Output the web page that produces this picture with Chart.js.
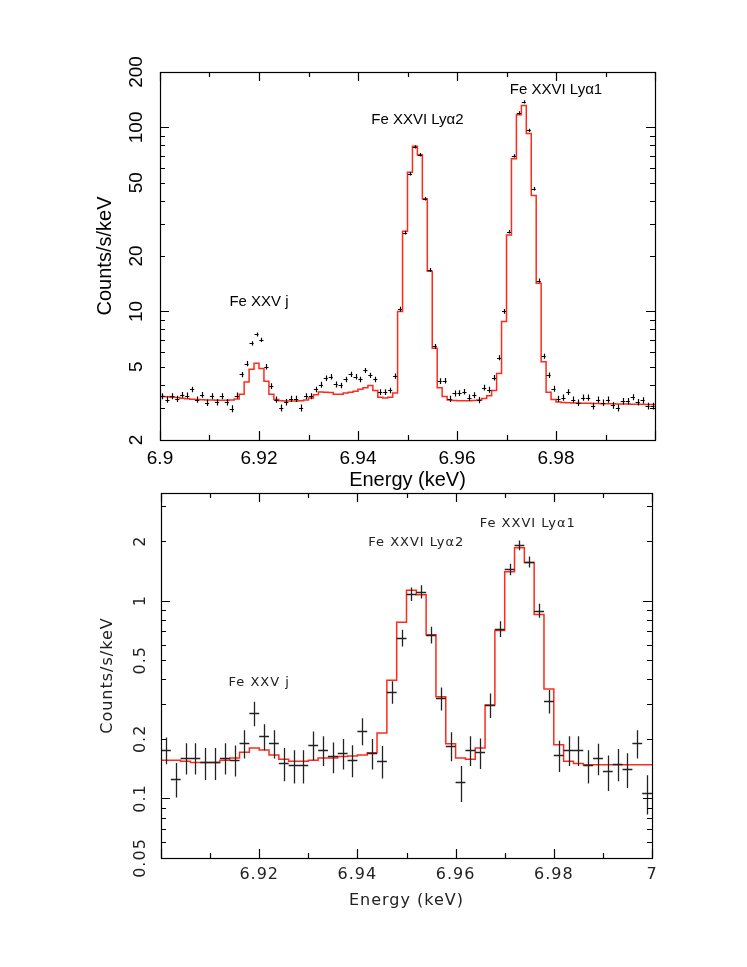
<!DOCTYPE html>
<html>
<head>
<meta charset="utf-8">
<script src="https://cdn.jsdelivr.net/npm/chart.js@4.4.0/dist/chart.umd.min.js"></script>
<style>
  body { margin: 0; background: #fff; }
  #wrap { position: relative; width: 747px; height: 967px; }
  canvas { position: absolute; left: 0; }
</style>
</head>
<body>
<div id="wrap">
  <canvas id="topChart" width="747" height="500" style="top:0"></canvas>
  <canvas id="botChart" width="747" height="450" style="top:470px"></canvas>
</div>
<script>
// energy grid (keV)
var eStart = 6.9;
var topBin = 0.001;
var botBin = 0.002;

// upper panel: 100 bins of 1 eV
var topCounts = [
  3.46, 3.32, 3.46, 3.35, 3.52, 3.49, 3.77, 3.32, 3.52, 3.19,
  3.46, 3.21, 3.46, 3.21, 2.96, 3.49, 4.54, 5.20, 6.70, 7.50,
  7.00, 5.00, 3.93, 3.32, 2.99, 3.21, 3.35, 3.35, 2.99, 3.46,
  3.46, 3.77, 4.00, 4.33, 4.42, 4.01, 3.96, 4.27, 4.55, 4.42,
  4.27, 4.78, 4.49, 4.27, 3.64, 3.64, 3.72, 4.45, 10.3, 26.8,
  56.0, 78.3, 71.0, 41.0, 16.8, 6.45, 4.18, 4.20, 3.35, 3.58,
  3.60, 3.66, 3.40, 3.50, 3.30, 3.85, 3.75, 4.36, 5.60, 10.0,
  27.1, 70.0, 120, 137.7, 96.4, 46.4, 14.7, 5.70, 4.50, 3.80,
  3.35, 3.40, 3.64, 3.32, 3.19, 3.40, 3.40, 3.06, 3.32, 3.19,
  3.32, 3.09, 2.99, 3.25, 3.25, 3.42, 3.21, 3.29, 3.06, 3.06
];
var topErr = [
  0.13, 0.13, 0.13, 0.13, 0.13, 0.13, 0.13, 0.13, 0.13, 0.13,
  0.13, 0.13, 0.13, 0.13, 0.13, 0.13, 0.15, 0.17, 0.18, 0.19,
  0.18, 0.17, 0.14, 0.13, 0.13, 0.13, 0.13, 0.13, 0.13, 0.13,
  0.13, 0.13, 0.15, 0.15, 0.15, 0.15, 0.14, 0.15, 0.15, 0.15,
  0.15, 0.15, 0.15, 0.15, 0.13, 0.13, 0.13, 0.15, 0.30, 0.60,
  1.2, 1.6, 1.5, 0.9, 0.4, 0.2, 0.15, 0.15, 0.13, 0.13,
  0.13, 0.13, 0.13, 0.13, 0.13, 0.14, 0.14, 0.15, 0.18, 0.30,
  0.6, 1.5, 2.4, 2.7, 2.0, 1.0, 0.4, 0.18, 0.15, 0.14,
  0.13, 0.13, 0.13, 0.13, 0.13, 0.13, 0.13, 0.13, 0.13, 0.13,
  0.13, 0.13, 0.13, 0.13, 0.13, 0.13, 0.13, 0.13, 0.13, 0.13
];
var topModel = [
  3.45, 3.44, 3.42, 3.40, 3.37, 3.35, 3.33, 3.32, 3.31, 3.30,
  3.30, 3.29, 3.29, 3.29, 3.30, 3.34, 3.55, 4.13, 4.85, 5.22,
  4.90, 4.17, 3.55, 3.32, 3.27, 3.26, 3.26, 3.26, 3.27, 3.30,
  3.38, 3.52, 3.65, 3.63, 3.62, 3.55, 3.55, 3.60, 3.64, 3.68,
  3.78, 3.85, 3.95, 3.72, 3.42, 3.38, 3.42, 3.60, 10.0, 27.3,
  57.0, 79.0, 71.0, 41.0, 16.5, 6.30, 3.85, 3.45, 3.30, 3.28,
  3.27, 3.27, 3.27, 3.28, 3.30, 3.36, 3.48, 3.72, 4.60, 8.80,
  26.0, 67.5, 117, 131.5, 92.6, 42.7, 14.2, 5.33, 3.64, 3.32,
  3.22, 3.20, 3.19, 3.18, 3.18, 3.17, 3.17, 3.16, 3.16, 3.15,
  3.15, 3.15, 3.14, 3.14, 3.14, 3.13, 3.13, 3.13, 3.12, 3.12
];
var topXLabels = [6.9, 6.92, 6.94, 6.96, 6.98];
var topYLabels = [2, 5, 10, 20, 50, 100, 200];

// lower panel: 50 bins of 2 eV
var botCounts = [
  0.176, 0.126, 0.161, 0.161, 0.152, 0.152, 0.161, 0.157, 0.190, 0.270,
  0.206, 0.190, 0.151, 0.147, 0.147, 0.187, 0.176, 0.163, 0.170, 0.157,
  0.220, 0.170, 0.155, 0.346, 0.649, 1.08, 1.11, 0.673, 0.321, 0.185,
  0.121, 0.176, 0.171, 0.297, 0.720, 1.44, 1.905, 1.57, 0.891, 0.311,
  0.166, 0.176, 0.176, 0.147, 0.160, 0.137, 0.150, 0.141, 0.190, 0.107
];
var botErr = [
  0.027, 0.025, 0.029, 0.029, 0.028, 0.028, 0.029, 0.028, 0.031, 0.038,
  0.031, 0.031, 0.029, 0.028, 0.028, 0.031, 0.030, 0.029, 0.030, 0.029,
  0.034, 0.030, 0.029, 0.045, 0.063, 0.085, 0.085, 0.065, 0.043, 0.031,
  0.025, 0.030, 0.030, 0.042, 0.066, 0.095, 0.110, 0.100, 0.072, 0.042,
  0.030, 0.030, 0.030, 0.028, 0.029, 0.028, 0.028, 0.028, 0.031, 0.024
];
var botModel = [
  0.156, 0.156, 0.154, 0.152, 0.152, 0.152, 0.156, 0.160, 0.171, 0.180,
  0.176, 0.166, 0.158, 0.154, 0.154, 0.156, 0.160, 0.160, 0.163, 0.164,
  0.166, 0.170, 0.214, 0.396, 0.778, 1.13, 1.07, 0.672, 0.327, 0.189,
  0.160, 0.158, 0.180, 0.297, 0.707, 1.40, 1.85, 1.56, 0.850, 0.357,
  0.187, 0.154, 0.150, 0.148, 0.148, 0.148, 0.148, 0.148, 0.148, 0.148
];
var botXLabels = [6.92, 6.94, 6.96, 6.98, 7];
var botYLabels = [0.05, 0.1, 0.2, 0.5, 1, 2];

var lineNames = ['Fe XXV j', 'Fe XXVI Ly\u03b12', 'Fe XXVI Ly\u03b11'];

function centers(vals, w) {
  return vals.map(function (v, i) { return {x: eStart + w * (i + 0.5), y: v}; });
}
function steps(vals, w) {
  var pts = vals.map(function (v, i) { return {x: eStart + w * i, y: v}; });
  pts.push({x: eStart + w * vals.length, y: vals[vals.length - 1]});
  return pts;
}
function near(list, v) {
  return list.some(function (l) { return Math.abs(l - v) < 1e-6 * Math.max(1, Math.abs(l)); });
}
function fmt(v) { return String(+Number(v).toPrecision(3)); }

// wider letter spacing for the lower panel's plotter-style text
var spacing = {
  id: 'spacing',
  beforeDraw: function (chart, args, o) {
    if (o.px) chart.ctx.letterSpacing = o.px + 'px';
  }
};

// inward ticks on all four sides plus the box
var frame = {
  id: 'frame',
  afterDraw: function (chart, args, o) {
    var ctx = chart.ctx, a = chart.chartArea, x = chart.scales.x, y = chart.scales.y;
    ctx.save();
    ctx.strokeStyle = o.color;
    ctx.lineWidth = o.width;
    ctx.strokeRect(a.left + 0.5, a.top + 0.5, a.right - a.left, a.bottom - a.top);
    ctx.beginPath();
    for (var i = 0; i <= 10; i++) {
      var px = Math.round(x.getPixelForValue(eStart + i * 0.01)) + 0.5;
      var len = i % 2 === 0 ? o.major : o.minor;
      ctx.moveTo(px, a.bottom); ctx.lineTo(px, a.bottom - len);
      ctx.moveTo(px, a.top); ctx.lineTo(px, a.top + len);
    }
    var e0 = Math.floor(Math.log10(y.min)), e1 = Math.ceil(Math.log10(y.max));
    for (var e = e0; e <= e1; e++) {
      for (var m = 1; m <= 9; m++) {
        var v = m * Math.pow(10, e);
        if (v < y.min * 0.999 || v > y.max * 1.001) continue;
        var py = Math.round(y.getPixelForValue(v)) + 0.5;
        var l = m === 1 ? o.major : o.minor;
        ctx.moveTo(a.left, py); ctx.lineTo(a.left + l, py);
        ctx.moveTo(a.right, py); ctx.lineTo(a.right - l, py);
      }
    }
    ctx.stroke();
    ctx.restore();
  }
};

var errorBars = {
  id: 'errorBars',
  afterDatasetsDraw: function (chart, args, o) {
    var ctx = chart.ctx, a = chart.chartArea, x = chart.scales.x, y = chart.scales.y;
    var ds = chart.data.datasets[0];
    ctx.save();
    ctx.beginPath();
    ctx.rect(a.left, a.top, a.right - a.left, a.bottom - a.top);
    ctx.clip();
    ctx.strokeStyle = o.color;
    ctx.lineWidth = o.width;
    ctx.beginPath();
    ds.data.forEach(function (p, i) {
      var e = o.err[i];
      var px = Math.round(x.getPixelForValue(p.x)) + 0.5;
      var py = Math.round(y.getPixelForValue(p.y)) + 0.5;
      ctx.moveTo(x.getPixelForValue(p.x - o.half), py);
      ctx.lineTo(x.getPixelForValue(p.x + o.half), py);
      ctx.moveTo(px, y.getPixelForValue(p.y + e));
      ctx.lineTo(px, y.getPixelForValue(p.y - e));
    });
    ctx.stroke();
    ctx.restore();
  }
};

var notes = {
  id: 'notes',
  afterDraw: function (chart, args, o) {
    var ctx = chart.ctx, x = chart.scales.x, y = chart.scales.y;
    ctx.save();
    ctx.fillStyle = o.color;
    ctx.font = o.font;
    ctx.textAlign = 'center';
    ctx.textBaseline = 'middle';
    o.items.forEach(function (it, i) {
      ctx.fillText(lineNames[i], x.getPixelForValue(it[0]), y.getPixelForValue(it[1]));
    });
    ctx.restore();
  }
};

function makeChart(id, cfg) {
  return new Chart(document.getElementById(id), {
    type: 'line',
    data: {
      datasets: [{
        label: 'data',
        data: cfg.counts,
        showLine: false,
        pointRadius: 0
      }, {
        label: 'model',
        data: cfg.model,
        stepped: true,
        borderColor: '#ff2a1a',
        borderWidth: 1.5,
        pointRadius: 0,
        fill: false
      }]
    },
    options: {
      responsive: false,
      animation: false,
      layout: {padding: cfg.pad},
      plugins: {
        legend: {display: false},
        tooltip: {enabled: false},
        spacing: {px: cfg.letterSpacing},
        frame: {color: '#000', width: cfg.axisWidth, major: 9, minor: 5},
        errorBars: {err: cfg.err, half: cfg.half, color: cfg.crossColor, width: cfg.crossWidth},
        notes: {font: cfg.noteFont, color: cfg.textColor, items: cfg.notes}
      },
      scales: {
        x: {
          type: 'linear',
          min: 6.9,
          max: 7.0,
          afterFit: function (s) { s.height = cfg.xHeight; },
          afterBuildTicks: function (s) { s.ticks = cfg.xLabels.map(function (v) { return {value: v}; }); },
          grid: {display: false},
          border: {display: false},
          ticks: {
            autoSkip: false,
            maxRotation: 0,
            padding: cfg.xTickPad,
            color: cfg.textColor,
            font: cfg.tickFont,
            callback: function (v) { return near(cfg.xLabels, v) ? fmt(v) : ''; }
          },
          title: {display: true, text: 'Energy (keV)', color: cfg.textColor, font: cfg.titleFont, padding: {top: 0, bottom: cfg.xTitlePad}}
        },
        y: {
          type: 'logarithmic',
          min: cfg.yMin,
          max: cfg.yMax,
          afterFit: function (s) { s.width = cfg.yWidth; },
          afterBuildTicks: function (s) { s.ticks = cfg.yLabels.map(function (v) { return {value: v}; }); },
          grid: {display: false},
          border: {display: false},
          ticks: {
            autoSkip: false,
            minRotation: 90,
            maxRotation: 90,
            crossAlign: 'center',
            padding: cfg.yTickPad,
            color: cfg.textColor,
            font: cfg.tickFont,
            callback: function (v) { return fmt(v); }
          },
          title: {display: true, text: 'Counts/s/keV', color: cfg.textColor, font: cfg.titleFont, padding: {top: cfg.yTitlePad, bottom: 0}}
        }
      }
    },
    plugins: [spacing, errorBars, frame, notes]
  });
}

makeChart('topChart', {
  counts: centers(topCounts, topBin),
  model: steps(topModel, topBin),
  err: topErr,
  half: 0.00042,
  crossColor: '#000',
  crossWidth: 1.2,
  axisWidth: 1.2,
  pad: {left: 0, top: 72, right: 92, bottom: 0},
  xHeight: 60,
  yWidth: 160,
  yMin: 2,
  yMax: 200,
  xLabels: topXLabels,
  yLabels: topYLabels,
  xTickPad: -1,
  yTickPad: -1,
  xTitlePad: 8,
  yTitlePad: 93,
  letterSpacing: 0,
  textColor: '#000',
  tickFont: {family: 'Liberation Sans', size: 19},
  titleFont: {family: 'Liberation Sans', size: 20},
  noteFont: '15px "Liberation Sans"',
  notes: [[6.92, 11.3], [6.952, 110], [6.98, 160]]
});

makeChart('botChart', {
  counts: centers(botCounts, botBin),
  model: steps(botModel, botBin),
  err: botErr,
  half: 0.001,
  crossColor: '#222',
  crossWidth: 1.3,
  axisWidth: 1.2,
  pad: {left: 0, top: 23, right: 95, bottom: 0},
  xHeight: 62,
  yWidth: 161,
  yMin: 0.05,
  yMax: 3.5,
  xLabels: botXLabels,
  yLabels: botYLabels,
  xTickPad: -1,
  yTickPad: -6,
  xTitlePad: 10,
  yTitlePad: 98,
  letterSpacing: 1,
  textColor: '#222',
  tickFont: {family: 'DejaVu Sans', size: 16},
  titleFont: {family: 'DejaVu Sans', size: 16},
  noteFont: '13px "DejaVu Sans"',
  notes: [[6.92, 0.383], [6.952, 1.955], [6.9747, 2.44]]
});
</script>
</body>
</html>
